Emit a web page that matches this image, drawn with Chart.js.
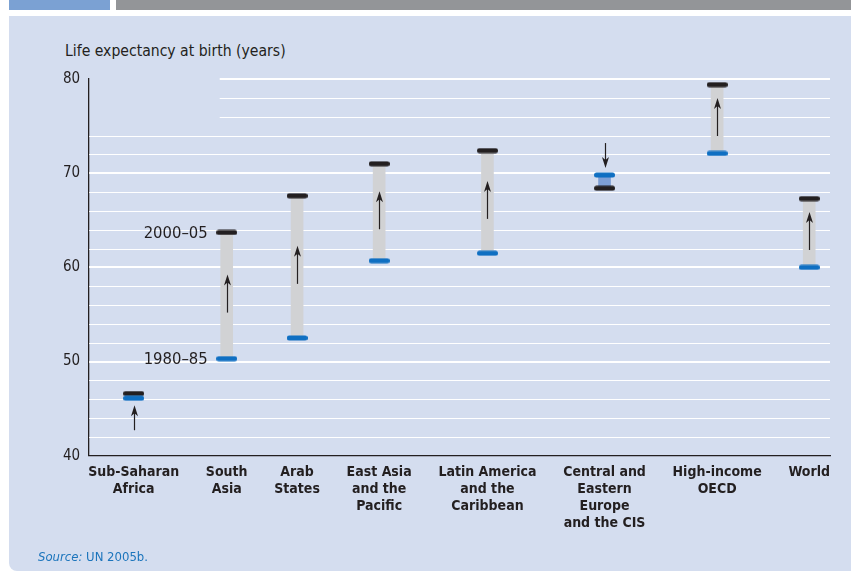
<!DOCTYPE html>
<html lang="en">
<head>
<meta charset="UTF-8">
<title>Life expectancy at birth</title>
<script src="https://cdn.jsdelivr.net/npm/chart.js"></script>
<style>
  html, body { margin: 0; padding: 0; background: #fff; }
  body { width: 851px; height: 571px; position: relative; overflow: hidden; }
  #tab { position: absolute; left: 9px; top: 0; width: 101px; height: 10px; background: #7ba1d3; }
  #strip { position: absolute; left: 116px; top: 0; right: 0; height: 10px; background: #939598; }
  #panel { position: absolute; left: 9px; top: 16px; right: 0; bottom: 0; background: #d4ddef; border-bottom-left-radius: 8px; }
  #chart { position: absolute; left: 0; top: 0; }
  .txt { position: absolute; font-family: 'DejaVu Sans Condensed', 'DejaVu Sans', sans-serif; white-space: nowrap; }
  #title { left: 65px; top: 42px; font-size: 15.6px; color: #231f20; }
  #source { left: 38px; top: 549px; font-size: 13px; color: #1c75bc; }
</style>
</head>
<body>
<div id="tab"></div>
<div id="strip"></div>
<div id="panel"></div>
<div id="title" class="txt">Life expectancy at birth (years)</div>
<canvas id="chart" width="851" height="571"></canvas>
<div id="source" class="txt"><i>Source:</i> UN 2005b.</div>

<script>
    // Regions and life expectancy (years) for the two periods
    const regions = [
        ['Sub-Saharan', 'Africa'],
        ['South', 'Asia'],
        ['Arab', 'States'],
        ['East Asia', 'and the', 'Pacific'],
        ['Latin America', 'and the', 'Caribbean'],
        ['Central and', 'Eastern', 'Europe', 'and the CIS'],
        ['High-income', 'OECD'],
        ['World']
    ];
    const life1980 = [46.1, 50.3, 52.5, 60.7, 61.5, 69.8, 72.1, 60.0];
    const life2000 = [46.6, 63.7, 67.6, 71.0, 72.4, 68.4, 79.4, 67.3];
    const periods = ['1980–85', '2000–05'];

    const FONT = "'DejaVu Sans Condensed', 'DejaVu Sans', sans-serif";
    const INK = '#231f20';
    const BLUE = '#0f6fc2';
    const PLOT_W = 742;

    // regions are spread so their labels sit justified along the axis
    const measure = document.createElement('canvas').getContext('2d');
    measure.font = 'bold 14px ' + FONT;
    const labelW = regions.map(r => Math.max(...r.map(s => measure.measureText(s).width)));
    const gap = (PLOT_W - labelW.reduce((a, b) => a + b, 0)) / (regions.length - 1);
    const xPos = [];
    labelW.reduce((left, w) => { xPos.push(left + w / 2); return left + w + gap; }, 0);

    // pill shaped marker for the period end caps
    function capImage(color) {
        const c = document.createElement('canvas');
        c.width = 21; c.height = 6;
        const g = c.getContext('2d');
        g.strokeStyle = color;
        g.lineWidth = 5;
        g.lineCap = 'round';
        g.beginPath();
        g.moveTo(2.5, 3);
        g.lineTo(18.5, 3);
        g.stroke();
        return c;
    }

    // white horizontal rules every 2 years, heavier every 10
    const gridRules = {
        id: 'gridRules',
        beforeDatasetsDraw(chart) {
            const { ctx, chartArea, scales: { x, y } } = chart;
            ctx.save();
            ctx.strokeStyle = '#ffffff';
            for (let v = 42; v <= 80; v += 2) {
                const py = Math.round(y.getPixelForValue(v)) + (v % 10 === 0 ? 0 : 0.5);
                const x0 = v >= 76 ? x.getPixelForValue(xPos[1]) - 7 : chartArea.left + 1;
                ctx.lineWidth = v % 10 === 0 ? 2 : 1.2;
                ctx.beginPath();
                ctx.moveTo(x0, py);
                ctx.lineTo(chartArea.right, py);
                ctx.stroke();
            }
            ctx.restore();
        }
    };

    function arrow(ctx, px, from, to) {
        const dir = Math.sign(to - from);
        ctx.beginPath();
        ctx.moveTo(px, from);
        ctx.lineTo(px, to - dir * 6);
        ctx.stroke();
        ctx.beginPath();
        ctx.moveTo(px, to);
        ctx.lineTo(px - 3.5, to - dir * 11);
        ctx.lineTo(px, to - dir * 8);
        ctx.lineTo(px + 3.5, to - dir * 11);
        ctx.closePath();
        ctx.fill();
    }

    // direction arrows and the period labels next to South Asia
    const annotations = {
        id: 'annotations',
        afterDatasetsDraw(chart) {
            const { ctx, scales: { x, y } } = chart;
            ctx.save();
            ctx.strokeStyle = INK;
            ctx.fillStyle = INK;
            ctx.lineWidth = 1.2;
            regions.forEach((r, i) => {
                const px = Math.round(x.getPixelForValue(xPos[i])) + 0.5;
                const p0 = y.getPixelForValue(life1980[i]);
                const p1 = y.getPixelForValue(life2000[i]);
                const d = Math.sign(p1 - p0);
                if (Math.abs(p1 - p0) > 60) {
                    const mid = (p0 + p1) / 2 - 2;
                    arrow(ctx, px, mid - d * 19, mid + d * 19);
                } else {
                    // short change: arrow leads into the starting cap
                    const tip = p0 - d * 7;
                    arrow(ctx, px, tip - d * 25, tip);
                }
            });
            ctx.font = '16.5px ' + FONT;
            ctx.textAlign = 'right';
            ctx.textBaseline = 'middle';
            const lx = x.getPixelForValue(xPos[1]) - 19;
            ctx.fillText(periods[1], lx, y.getPixelForValue(life2000[1]) + 1);
            ctx.fillText(periods[0], lx, y.getPixelForValue(life1980[1]) + 1);
            ctx.restore();
        }
    };

    const idx = regions.map((r, i) => i);

    const ctx = document.getElementById('chart').getContext('2d');
    new Chart(ctx, {
        type: 'bar',
        data: {
            datasets: [
                {
                    type: 'scatter',
                    label: periods[0],
                    data: idx.map(i => ({ x: xPos[i], y: life1980[i] })),
                    pointStyle: capImage(BLUE),
                    order: 1
                },
                {
                    type: 'scatter',
                    label: periods[1],
                    data: idx.map(i => ({ x: xPos[i], y: life2000[i] })),
                    pointStyle: capImage(INK),
                    order: 2
                },
                {
                    label: 'change',
                    data: idx.map(i => ({ x: xPos[i], y: [life1980[i], life2000[i]] })),
                    backgroundColor: idx.map(i => life2000[i] < life1980[i] ? '#7d9fd5' : '#d1d2d4'),
                    barThickness: 12,
                    borderSkipped: false,
                    order: 3
                }
            ]
        },
        plugins: [gridRules, annotations],
        options: {
            responsive: false,
            animation: false,
            events: [],
            layout: { padding: { left: 55, right: 21, top: 79, bottom: 31 } },
            plugins: {
                legend: { display: false },
                tooltip: { enabled: false }
            },
            scales: {
                x: {
                    type: 'linear',
                    offset: false,
                    min: 0,
                    max: PLOT_W,
                    grid: { display: false, drawTicks: false },
                    border: { display: true, color: INK, width: 1.3 },
                    afterBuildTicks: s => { s.ticks = idx.map(i => ({ value: xPos[i] })); },
                    ticks: {
                        autoSkip: false,
                        maxRotation: 0,
                        padding: 8,
                        color: INK,
                        font: { family: FONT, size: 14, weight: 'bold', lineHeight: 1.22 },
                        callback: (v, i) => regions[i]
                    }
                },
                y: {
                    min: 40,
                    max: 80,
                    grid: { display: false, drawTicks: false },
                    border: { display: true, color: INK, width: 1.3 },
                    ticks: {
                        stepSize: 10,
                        padding: 8,
                        color: INK,
                        font: { family: FONT, size: 15 }
                    }
                }
            }
        }
    });
</script>
</body>
</html>
